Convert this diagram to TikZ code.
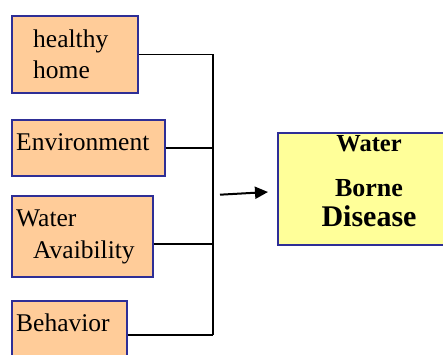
\documentclass[tikz,border=0pt]{standalone}
\usepackage{fontspec}
\setmainfont{Liberation Serif}
\usetikzlibrary{calc,arrows.meta}

\begin{document}
\begin{tikzpicture}[x=1pt,y=-1pt,
  factor/.style={draw=navy,fill=peach,line width=1.6pt,anchor=north west,inner sep=0pt},
  lbl/.style={anchor=base west,inner sep=0pt,font=\fontsize{25.5}{28}\selectfont},
  rlbl/.style={anchor=base,inner sep=0pt},
  link/.style={line width=1.5pt}]
  \definecolor{navy}{RGB}{46,46,150}
  \definecolor{peach}{RGB}{255,204,153}
  \definecolor{lemon}{RGB}{255,255,153}
  \useasboundingbox (0,0) rectangle (443,354);
  % left boxes
  \node[factor,minimum width=126pt,minimum height=77pt] (hh) at (11,15) {};
  \node[factor,minimum width=153pt,minimum height=56pt] (env) at (11,119) {};
  \node[factor,minimum width=141pt,minimum height=81pt] (wa) at (11,195) {};
  \node[factor,minimum width=115pt,minimum height=68pt] (beh) at (11,300) {};
  \node[lbl] (t1) at (33,47) {healthy};
  \node[lbl] (t2) at (33,78) {home};
  \node[lbl] (t3) at (16,150.5) {Environment};
  \node[lbl] (t4) at (16,226.5) {Water};
  \node[lbl] (t5) at (33,258) {Avaibility};
  \node[lbl] (t6) at (16,331.5) {Behavior};
  % result box
  \node[draw=navy,fill=lemon,line width=1.6pt,anchor=north west,inner sep=0pt,
        minimum width=184pt,minimum height=112pt] (wbd) at (277,132) {};
  \node[rlbl,font=\fontsize{24.5}{26}\selectfont\bfseries] (r1) at (369,151) {Water};
  \node[rlbl,font=\fontsize{26}{28}\selectfont\bfseries] (r2) at (369,196) {Borne};
  \node[rlbl,font=\fontsize{30}{32}\selectfont\bfseries] (r3) at (369,226) {Disease};
  % connectors
  \coordinate (bus) at (213,0);
  \draw[link] (hh.east) -- (hh.east -| bus);
  \draw[link] (env.east) -- (env.east -| bus);
  \draw[link] ($(wa.east)+(0,7.5)$) -- ($(wa.east -| bus)+(0,7.5)$);
  \draw[link] (beh.east) -- (beh.east -| bus);
  \draw[link] (hh.east -| bus) -- (beh.east -| bus);
  \coordinate (a1) at (220,194.7);
  \coordinate (a2) at (268,192);
  \draw[link,line width=2pt,-{Triangle[length=13pt,width=12pt]}] (a1) -- (a2);
\end{tikzpicture}
\end{document}
